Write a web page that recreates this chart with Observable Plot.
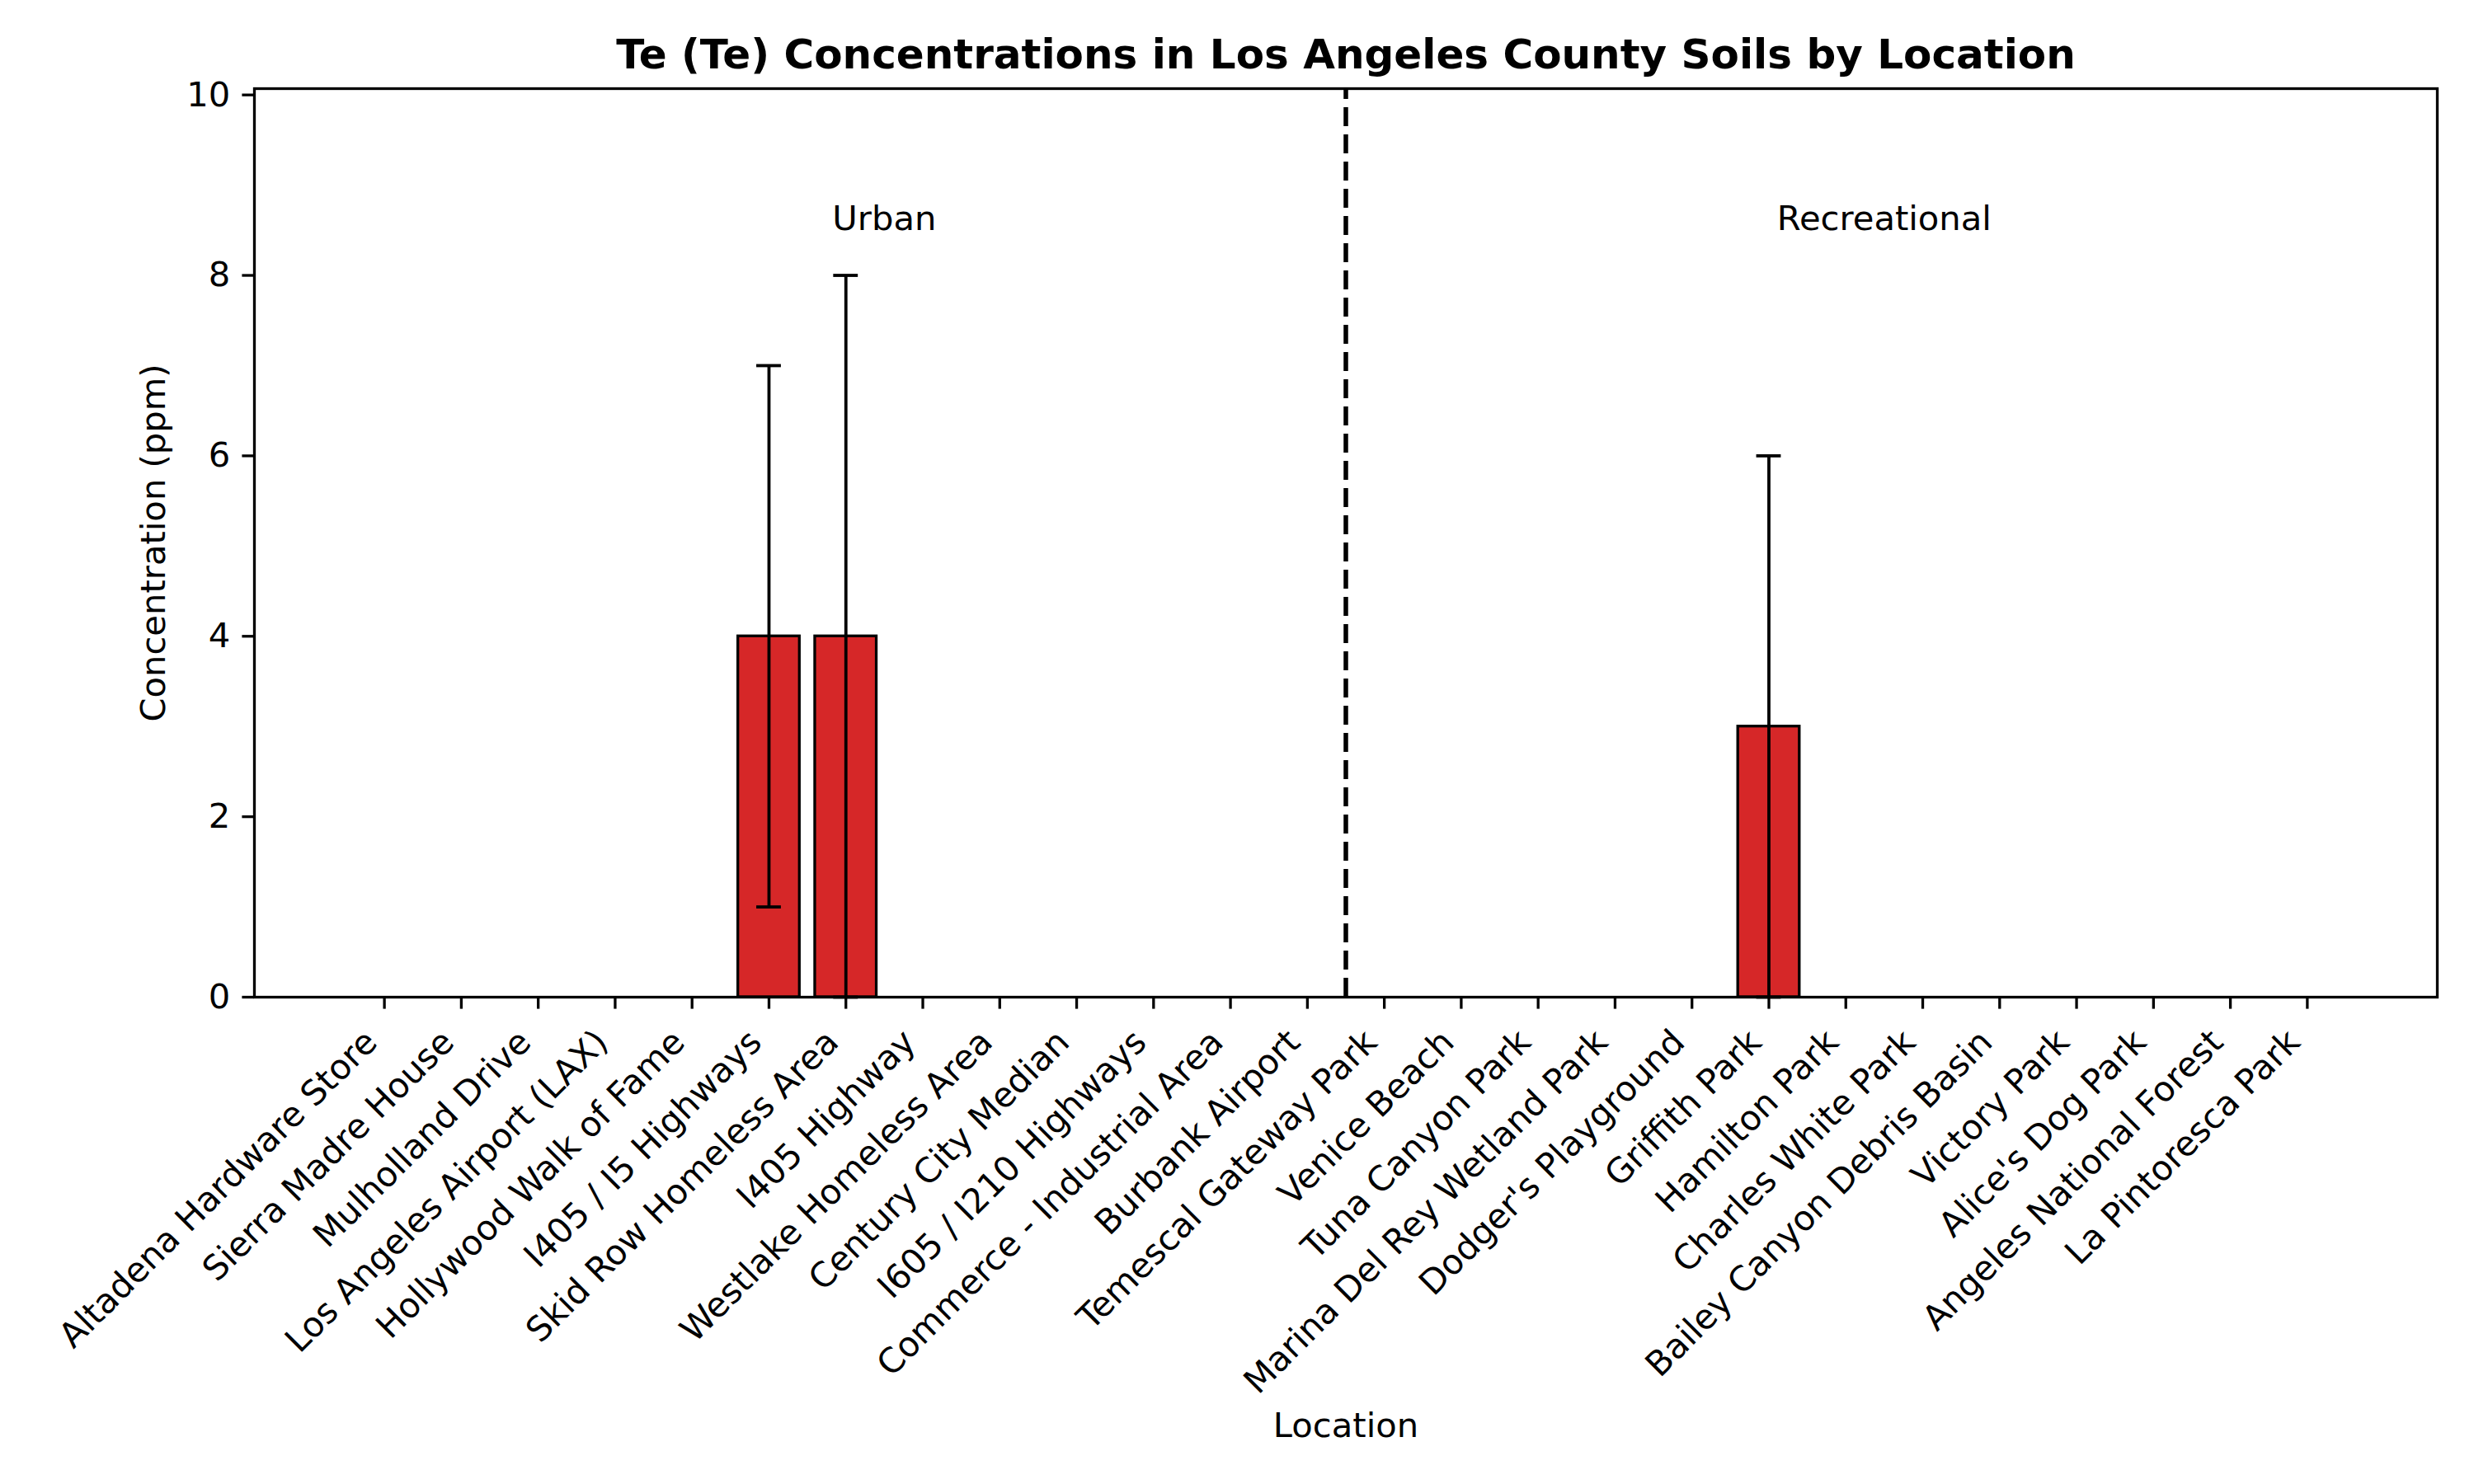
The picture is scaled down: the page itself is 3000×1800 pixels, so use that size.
<!DOCTYPE html>
<html>
<head>
<meta charset="utf-8">
<script src="https://cdn.jsdelivr.net/npm/d3@7"></script>
<script src="https://cdn.jsdelivr.net/npm/@observablehq/plot@0.6"></script>
<style>
  html, body { margin: 0; padding: 0; background: #ffffff; }
  #chart svg { display: block; }
</style>
</head>
<body>
<div id="chart"></div>
<script>
// ---- data ----
const titleText = "Te (Te) Concentrations in Los Angeles County Soils by Location";
const xLabel = "Location";
const yLabel = "Concentration (ppm)";

const urbanLocations = [
  "Altadena Hardware Store", "Sierra Madre House", "Mulholland Drive",
  "Los Angeles Airport (LAX)", "Hollywood Walk of Fame", "I405 / I5 Highways",
  "Skid Row Homeless Area", "I405 Highway", "Westlake Homeless Area",
  "Century City Median", "I605 / I210 Highways", "Commerce - Industrial Area",
  "Burbank Airport"
];
const recreationalLocations = [
  "Temescal Gateway Park", "Venice Beach", "Tuna Canyon Park",
  "Marina Del Rey Wetland Park", "Dodger's Playground", "Griffith Park",
  "Hamilton Park", "Charles White Park", "Bailey Canyon Debris Basin",
  "Victory Park", "Alice's Dog Park", "Angeles National Forest",
  "La Pintoresca Park"
];
const urbanValues =        [0, 0, 0, 0, 0, 4, 4, 0, 0, 0, 0, 0, 0];
const urbanErrors =        [0, 0, 0, 0, 0, 3, 4, 0, 0, 0, 0, 0, 0];
const recreationalValues = [0, 0, 0, 0, 0, 3, 0, 0, 0, 0, 0, 0, 0];
const recreationalErrors = [0, 0, 0, 0, 0, 3, 0, 0, 0, 0, 0, 0, 0];
const groupNames = ["Urban", "Recreational"];
const yTicks = [0, 2, 4, 6, 8, 10];

// ---- derived table ----
const locations = [...urbanLocations, ...recreationalLocations];
const values = [...urbanValues, ...recreationalValues];
const errs = [...urbanErrors, ...recreationalErrors];
const rows = locations.map((name, i) => ({ i, name, value: values[i], err: errs[i] }));
const errRows = rows.filter(d => d.err > 0);
const nU = urbanLocations.length, nR = recreationalLocations.length;
const groups = [
  { name: groupNames[0], center: (nU - 1) / 2 + 0.5 },
  { name: groupNames[1], center: nU + (nR - 1) / 2 + 0.5 }
];
const separator = nU - 0.5;

const FS = 41.7;
const pad = 1.69;
const half = 0.4;   // bar half-width
const cap = 0.16;   // error cap half-width
const xTicks = d3.range(locations.length);

const chart = Plot.plot({
  width: 3000,
  height: 1800,
  marginTop: 107,
  marginBottom: 591,
  marginLeft: 308,
  marginRight: 45,
  style: { fontFamily: "DejaVu Sans", fontSize: FS + "px", color: "black", background: "white" },
  x: { domain: [-pad, locations.length - 1 + pad] },
  y: { domain: [0, 10.07] },
  marks: [
    Plot.rectY(rows.filter(d => d.value > 0), {
      x1: d => d.i - half, x2: d => d.i + half, y1: 0, y2: "value",
      fill: "#d62728", stroke: "black", strokeWidth: 3.3
    }),
    Plot.ruleX([separator], {
      x: d => d, y1: 0, y2: 10.07, stroke: "black", strokeWidth: 5.5, strokeDasharray: "23,10"
    }),
    Plot.ruleX(errRows, {
      x: "i", y1: d => d.value - d.err, y2: d => d.value + d.err, stroke: "black", strokeWidth: 3.8
    }),
    Plot.ruleY(errRows, {
      x1: d => d.i - cap, x2: d => d.i + cap, y: d => d.value + d.err, stroke: "black", strokeWidth: 3.8
    }),
    Plot.ruleY(errRows, {
      x1: d => d.i - cap, x2: d => d.i + cap, y: d => d.value - d.err, stroke: "black", strokeWidth: 3.8
    }),
    Plot.frame({ stroke: "black", strokeWidth: 3.3 }),
    Plot.axisY({
      ticks: yTicks, tickSize: 14.6, tickPadding: 14.6, strokeWidth: 3.3,
      fontSize: FS, label: null, tickFormat: d => d
    }),
    // tick marks only
    Plot.axisX({
      ticks: xTicks, tickSize: 14.6, strokeWidth: 3.3,
      tickFormat: () => "", label: null
    }),
    // rotated tick labels only
    Plot.axisX({
      ticks: xTicks, tickSize: 0, tickPadding: 47.6,
      tickFormat: i => locations[i], tickRotate: -45, textAnchor: "end", lineAnchor: "middle",
      dx: -16, fontSize: FS, label: null
    }),
    Plot.text(groups, {
      x: "center", y: 8.5, text: "name", textAnchor: "middle", lineAnchor: "bottom", fontSize: FS
    }),
    Plot.text([titleText], {
      text: d => d, frameAnchor: "top", dy: -25, lineAnchor: "bottom",
      fontWeight: "bold", fontSize: 50
    }),
    Plot.text([yLabel], {
      text: d => d, frameAnchor: "left", dx: -122, rotate: -90,
      textAnchor: "middle", lineAnchor: "middle", fontSize: FS
    }),
    Plot.text([xLabel], {
      text: d => d, frameAnchor: "bottom", dy: 533, lineAnchor: "bottom", fontSize: FS
    })
  ]
});
document.getElementById("chart").appendChild(chart);
</script>
</body>
</html>
